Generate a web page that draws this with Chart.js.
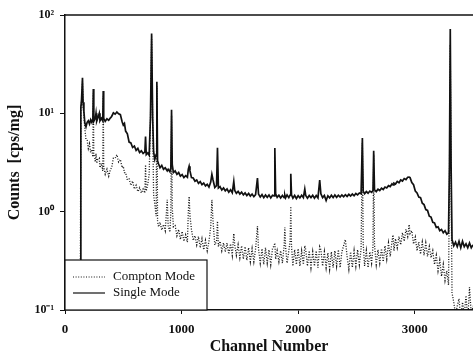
<!DOCTYPE html>
<html>
<head>
<meta charset="utf-8">
<script src="https://cdn.jsdelivr.net/npm/chart.js@4.4.1/dist/chart.umd.min.js"></script>
<style>
  html, body { margin: 0; padding: 0; background: #fff; }
  #wrap { width: 473px; height: 364px; }
</style>
</head>
<body>
<div id="wrap"><canvas id="c" width="473" height="364"></canvas></div>
<script>
// Gamma-ray spectrum: count rate per channel, single vs. Compton-suppressed acquisition
const channels = [
  120,130,136,142,150,155,162,170,180,190,
  200,210,220,230,239,243,247,260,266,272,
  281,294,300,312,324,328,332,345,360,375,
  390,400,415,430,445,460,475,490,500,510,
  520,535,550,565,580,595,610,625,640,655,
  670,685,691,697,710,722,733,743,752,760,
  770,782,788,794,803,815,830,845,860,877,
  885,900,908,914,920,930,945,960,975,990,
  1005,1020,1035,1050,1058,1065,1072,1085,1100,1115,
  1130,1145,1160,1175,1190,1205,1220,1235,1250,1260,
  1270,1285,1300,1308,1316,1330,1345,1360,1375,1390,
  1405,1420,1435,1448,1456,1470,1485,1500,1515,1530,
  1545,1560,1575,1590,1605,1620,1635,1651,1660,1675,
  1690,1705,1720,1735,1750,1765,1780,1793,1800,1807,
  1820,1835,1850,1865,1880,1886,1892,1905,1920,1931,
  1937,1943,1955,1970,1985,2000,2015,2030,2045,2057,
  2065,2080,2095,2110,2125,2140,2155,2170,2185,2195,
  2210,2225,2240,2255,2270,2285,2300,2315,2330,2345,
  2360,2375,2390,2405,2420,2435,2450,2465,2480,2495,
  2510,2525,2540,2551,2558,2570,2585,2600,2615,2630,
  2642,2648,2655,2670,2685,2700,2715,2730,2745,2760,
  2775,2790,2805,2814,2822,2835,2850,2865,2880,2895,
  2910,2925,2940,2952,2960,2975,2990,3005,3020,3035,
  3050,3065,3080,3095,3110,3125,3140,3155,3170,3185,
  3200,3215,3230,3245,3260,3275,3290,3298,3305,3312,
  3320,3335,3350,3365,3380,3395,3410,3425,3440,3455,
  3470,3485,3500
];

// counts [cps/mg], single mode
const singleMode = [
  0.05,0.06,11.5,13.8,23.0,13.0,10.5,8.0,7.3,8.1,
  8.4,7.8,8.6,8.1,8.8,17.7,8.3,8.9,10.0,8.3,
  8.9,10.0,8.4,8.9,8.4,16.9,8.9,8.3,8.8,8.5,
  9.0,9.3,10.1,9.8,10.3,9.9,9.7,8.2,7.6,7.9,
  6.6,6.2,5.1,5.0,4.5,4.65,4.2,4.4,4.0,4.15,
  3.9,4.05,5.8,3.8,3.95,3.75,9.0,65,9.0,4.1,
  3.4,3.8,21,3.3,3.05,2.8,2.95,2.7,2.8,2.6,
  2.7,2.55,2.8,10.9,3.0,2.5,2.6,2.4,2.5,2.3,
  2.38,2.22,2.32,2.24,2.7,2.9,2.6,2.22,2.2,2.04,
  2.1,1.94,2.02,1.88,1.95,1.83,1.9,1.78,2.0,2.4,
  2.1,1.76,1.84,4.46,1.74,1.8,1.66,1.74,1.63,1.7,
  1.58,1.67,1.56,2.03,1.64,1.54,1.61,1.51,1.58,1.48,
  1.55,1.46,1.53,1.44,1.51,1.42,1.49,2.2,1.51,1.41,
  1.49,1.39,1.48,1.4,1.48,1.38,1.47,1.45,4.43,1.52,
  1.4,1.47,1.38,1.46,1.39,1.47,1.38,1.48,1.39,1.47,
  2.43,1.48,1.37,1.46,1.36,1.45,1.38,1.47,1.39,1.7,
  1.46,1.37,1.46,1.39,1.47,1.37,1.46,1.38,2.1,1.52,
  1.39,1.46,1.3,1.45,1.38,1.47,1.39,1.48,1.4,1.47,
  1.41,1.48,1.42,1.49,1.43,1.5,1.44,1.51,1.45,1.53,
  1.48,1.55,1.52,5.6,1.62,1.52,1.6,1.54,1.62,1.57,
  1.64,4.16,1.67,1.6,1.69,1.64,1.73,1.68,1.78,1.74,
  1.84,1.8,1.92,1.87,1.95,1.91,2.03,1.97,2.1,2.05,
  2.17,2.12,2.24,2.25,2.22,1.98,1.88,1.62,1.55,1.41,
  1.39,1.22,1.18,1.05,1.03,0.9,0.88,0.78,0.77,0.69,
  0.7,0.64,0.66,0.61,0.64,0.59,0.61,3.0,72,3.0,
  0.52,0.45,0.49,0.44,0.5,0.43,0.5,0.44,0.47,0.43,
  0.48,0.43,0.46
];

// counts [cps/mg], Compton-suppressed mode
const comptonMode = [
  0.05,0.06,11.0,13.0,21.0,12.0,9.5,7.0,5.4,5.3,
  4.4,4.9,4.0,4.3,3.6,16.0,3.9,3.2,3.9,3.1,
  3.4,3.5,2.8,3.1,2.6,15.0,2.9,2.4,2.7,2.3,
  2.7,2.8,3.5,3.5,3.8,3.2,3.4,2.8,2.9,2.5,
  2.5,2.1,2.15,1.85,2.05,1.7,1.85,1.6,1.75,1.55,
  1.7,1.55,3.0,1.62,1.9,2.4,8.0,60,8.0,1.5,
  1.2,0.9,19,0.8,0.7,0.78,0.65,0.74,0.64,1.32,
  0.72,0.62,1.0,9.5,1.1,0.7,0.72,0.57,0.66,0.52,
  0.63,0.5,0.58,0.49,1.0,1.43,0.9,0.66,0.51,0.57,
  0.46,0.56,0.43,0.53,0.41,0.51,0.4,0.5,0.7,1.32,
  0.8,0.46,0.5,0.8,0.44,0.5,0.4,0.48,0.39,0.48,
  0.37,0.47,0.36,0.6,0.46,0.36,0.46,0.34,0.45,0.33,
  0.44,0.32,0.43,0.31,0.42,0.31,0.42,0.71,0.42,0.3,
  0.42,0.29,0.43,0.3,0.41,0.29,0.42,0.45,0.48,0.33,
  0.4,0.31,0.4,0.3,0.45,0.69,0.44,0.3,0.4,0.5,
  1.13,0.45,0.28,0.41,0.29,0.42,0.28,0.4,0.29,0.45,
  0.41,0.28,0.4,0.27,0.39,0.28,0.4,0.27,0.44,0.41,
  0.28,0.39,0.27,0.38,0.26,0.39,0.27,0.4,0.28,0.41,
  0.27,0.39,0.45,0.52,0.35,0.26,0.39,0.27,0.4,0.28,
  0.41,0.29,0.42,5.0,0.48,0.28,0.4,0.27,0.39,0.3,
  0.44,3.8,0.46,0.29,0.41,0.3,0.42,0.31,0.45,0.33,
  0.48,0.35,0.5,0.58,0.4,0.53,0.43,0.56,0.46,0.61,
  0.5,0.66,0.56,0.74,0.6,0.64,0.47,0.55,0.4,0.49,
  0.37,0.49,0.36,0.48,0.35,0.44,0.34,0.4,0.29,0.36,
  0.25,0.32,0.22,0.29,0.2,0.25,0.18,2.0,50,2.0,
  0.15,0.12,0.09,0.11,0.13,0.08,0.12,0.09,0.14,0.08,
  0.17,0.09,0.11
];

const xTickValues = [0, 1000, 2000, 3000];
const yTickValues = [0.1, 1, 10, 100];
const yTickLabels = ['10\u207B\u00B9', '10\u2070', '10\u00B9', '10\u00B2'];

const serif = '"Liberation Serif", "Times New Roman", serif';

const toPoints = (xs, ys) => xs.map((x, i) => ({ x: x, y: ys[i] }));

// frame line along the top and a boxed legend in the lower-left corner
const framePlugin = {
  id: 'frame',
  afterDatasetsDraw(chart) {
    const { ctx, chartArea } = chart;
    ctx.save();
    ctx.strokeStyle = '#111';
    ctx.lineWidth = 1.5;
    ctx.beginPath();
    ctx.moveTo(chartArea.left, chartArea.top);
    ctx.lineTo(chartArea.right, chartArea.top);
    ctx.stroke();

    // legend box
    const bx = chartArea.left, by = 260, bw = 142, bh = chartArea.bottom - 260;
    ctx.fillStyle = '#fff';
    ctx.fillRect(bx, by, bw, bh);
    ctx.lineWidth = 1.2;
    ctx.strokeRect(bx, by, bw, bh);

    ctx.font = '13px ' + serif;
    ctx.fillStyle = '#111';
    ctx.textBaseline = 'middle';
    const rows = [277, 293];
    chart.data.datasets.forEach((ds, i) => {
      const y = rows[i];
      ctx.save();
      ctx.strokeStyle = ds.borderColor;
      ctx.lineWidth = 1.2;
      ctx.setLineDash(ds.borderDash || []);
      ctx.beginPath();
      ctx.moveTo(73, y);
      ctx.lineTo(105, y);
      ctx.stroke();
      ctx.restore();
      ctx.fillText(ds.label, 113, y);
    });
    ctx.restore();
  }
};

new Chart(document.getElementById('c'), {
  type: 'line',
  data: {
    datasets: [
      {
        label: 'Compton Mode',
        data: toPoints(channels, comptonMode),
        borderColor: '#151515',
        borderWidth: 1.3,
        borderDash: [1, 1.6],
        pointRadius: 0,
        tension: 0,
        order: 2
      },
      {
        label: 'Single Mode',
        data: toPoints(channels, singleMode),
        borderColor: '#111',
        borderWidth: 1.7,
        pointRadius: 0,
        tension: 0,
        order: 1
      }
    ]
  },
  options: {
    responsive: false,
    devicePixelRatio: 1,
    animation: false,
    layout: { padding: { top: 15, right: 0, left: 0, bottom: 0 } },
    plugins: {
      legend: { display: false },
      tooltip: { enabled: false }
    },
    scales: {
      x: {
        type: 'linear',
        min: 0,
        max: 3500,
        afterBuildTicks: (s) => { s.ticks = xTickValues.map(v => ({ value: v })); },
        afterFit: (s) => { s.height = 54; },
        grid: { drawOnChartArea: false, drawTicks: true, tickLength: 4, color: '#111' },
        border: { display: true, color: '#111', width: 1.5 },
        ticks: {
          padding: 8,
          color: '#111',
          font: { family: serif, size: 13, weight: 'bold' },
          maxRotation: 0,
          callback: (v) => String(v)
        },
        title: {
          display: true,
          text: 'Channel Number',
          color: '#111',
          font: { family: serif, size: 16, weight: 'bold' },
          padding: { top: 0, bottom: 8 }
        }
      },
      y: {
        type: 'logarithmic',
        min: 0.1,
        max: 100,
        afterBuildTicks: (s) => { s.ticks = yTickValues.map(v => ({ value: v })); },
        afterFit: (s) => { s.width = 65; },
        grid: { drawOnChartArea: false, drawTicks: true, tickLength: 5, color: '#111' },
        border: { display: true, color: '#111', width: 1.5 },
        ticks: {
          padding: 6,
          color: '#111',
          font: { family: serif, size: 12, weight: 'bold' },
          callback: (v) => yTickLabels[yTickValues.indexOf(v)] ?? ''
        },
        title: {
          display: true,
          text: 'Counts  [cps/mg]',
          color: '#111',
          font: { family: serif, size: 16, weight: 'bold' },
          padding: { top: 5, bottom: 0 }
        }
      }
    }
  },
  plugins: [framePlugin]
});
</script>
</body>
</html>
